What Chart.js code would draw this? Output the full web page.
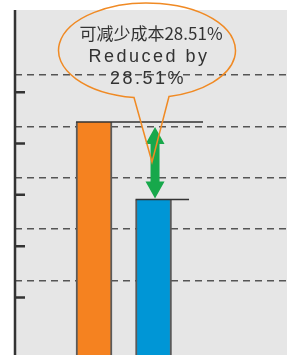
<!DOCTYPE html>
<html>
<head>
<meta charset="utf-8">
<script src="https://cdn.jsdelivr.net/npm/chart.js@4"></script>
<style>
  html, body { margin: 0; padding: 0; background: #fff; }
  #wrap { width: 287px; height: 355px; }
</style>
</head>
<body>
<div id="wrap"><canvas id="chart"></canvas></div>
<script>
// Data
const categories = ['Before', 'After'];
const costValues = [4.54, 3.03];
const barColors = ['#f58220', '#0096d6'];

const gridValues = [1.45, 2.45, 3.45, 4.45, 5.45];
const tickMarkValues = [1.12, 2.12, 3.12, 4.12, 5.12];

const calloutLines = ['可减少成本28.51%', 'Reduced by', '28.51%'];

// Gray plot background + axis line + short tick marks
const backdrop = {
  id: 'backdrop',
  beforeDraw(chart) {
    const { ctx, chartArea: a } = chart;
    ctx.save();
    ctx.fillStyle = '#e6e6e6';
    ctx.fillRect(a.left, a.top, a.right - a.left, a.bottom - a.top);
    ctx.restore();
  },
  afterDraw(chart) {
    const { ctx, chartArea: a } = chart;
    const y = chart.scales.y;
    ctx.save();
    ctx.strokeStyle = '#333';
    ctx.lineWidth = 2.5;
    ctx.beginPath();
    ctx.moveTo(a.left, a.top);
    ctx.lineTo(a.left, a.bottom);
    tickMarkValues.forEach(v => {
      const py = y.getPixelForValue(v);
      ctx.moveTo(a.left, py);
      ctx.lineTo(a.left + 10, py);
    });
    ctx.stroke();
    ctx.restore();
  }
};

// Top lines, green double arrow and speech bubble
const annotate = {
  id: 'annotate',
  afterDatasetsDraw(chart) {
    const { ctx } = chart;
    const bars = chart.getDatasetMeta(0).data;
    const hi = bars[0], lo = bars[1];

    // extended top lines
    ctx.save();
    ctx.strokeStyle = '#333';
    ctx.lineWidth = 1.5;
    ctx.beginPath();
    ctx.moveTo(hi.x - hi.width / 2, hi.y);
    ctx.lineTo(hi.x + 109, hi.y);
    ctx.moveTo(lo.x - lo.width / 2, lo.y);
    ctx.lineTo(lo.x + 35.5, lo.y);
    ctx.stroke();

    // double arrow
    const ax = lo.x + 1.5;
    const top = hi.y + 5, bot = lo.y - 1;
    const hw = 9.5, sw = 4.5, hl = 17;
    ctx.fillStyle = '#17a84b';
    ctx.beginPath();
    ctx.moveTo(ax, top);
    ctx.lineTo(ax + hw, top + hl);
    ctx.lineTo(ax + sw, top + hl);
    ctx.lineTo(ax + sw, bot - hl);
    ctx.lineTo(ax + hw, bot - hl);
    ctx.lineTo(ax, bot);
    ctx.lineTo(ax - hw, bot - hl);
    ctx.lineTo(ax - sw, bot - hl);
    ctx.lineTo(ax - sw, top + hl);
    ctx.lineTo(ax - hw, top + hl);
    ctx.closePath();
    ctx.fill();

    // bubble
    const cx = 147, cy = 50.5, rx = 88.5, ry = 47.5;
    const tL = Math.acos((134 - cx) / rx);
    const tR = Math.acos((169 - cx) / rx);
    ctx.strokeStyle = '#f08a24';
    ctx.lineWidth = 1.5;
    ctx.beginPath();
    ctx.ellipse(cx, cy, rx, ry, 0, tL, tR + Math.PI * 2);
    ctx.lineTo(152, 162);
    ctx.closePath();
    ctx.stroke();

    ctx.fillStyle = '#333';
    ctx.textAlign = 'center';
    ctx.textBaseline = 'middle';
    ctx.font = '17px "Liberation Sans Narrow", "Noto Sans CJK SC", sans-serif';
    ctx.fillText(calloutLines[0], 151, 34);
    ctx.font = '18px "Liberation Sans", Arial, sans-serif';
    ctx.letterSpacing = '2.5px';
    ctx.fillText(calloutLines[1], 149, 57);
    ctx.fillText(calloutLines[2], 148, 79);
    ctx.restore();
  }
};

new Chart(document.getElementById('chart'), {
  type: 'bar',
  data: {
    labels: categories,
    datasets: [{
      data: costValues.map((v, i) => ({ x: i, y: v })),
      backgroundColor: barColors,
      borderColor: '#5a5a5a',
      borderWidth: { left: 2, right: 2, top: 0, bottom: 0 },
      borderSkipped: false,
      barThickness: 36
    }]
  },
  options: {
    responsive: true,
    maintainAspectRatio: false,
    animation: false,
    devicePixelRatio: 1,
    layout: { padding: { left: 15, top: 10, right: 0, bottom: 0 } },
    plugins: {
      legend: { display: false },
      tooltip: { enabled: false },
      title: { display: false }
    },
    scales: {
      x: {
        type: 'linear',
        offset: false,
        min: -1.328,
        max: 3.243,
        display: false
      },
      y: {
        min: 0,
        max: 6.72,
        afterBuildTicks: scale => {
          scale.ticks = gridValues.map(v => ({ value: v }));
        },
        ticks: { display: false },
        grid: {
          color: '#555',
          lineWidth: 1.5,
          drawTicks: false
        },
        border: { display: false, dash: [7, 5] }
      }
    }
  },
  plugins: [backdrop, annotate]
});
</script>
</body>
</html>
